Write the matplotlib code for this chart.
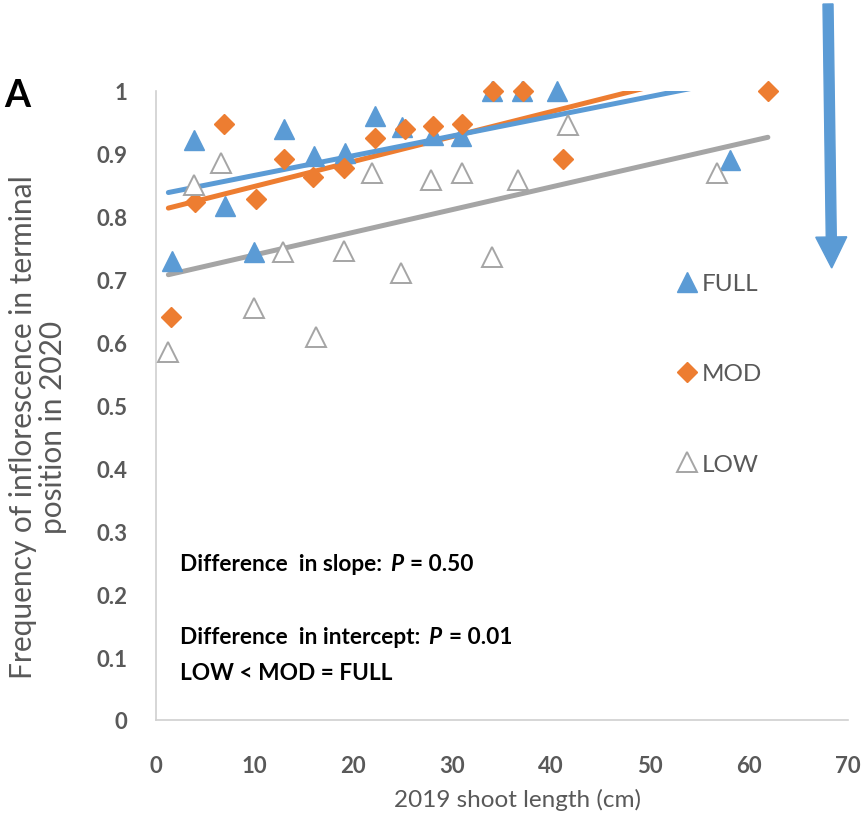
import numpy as np
import matplotlib
matplotlib.use("Agg")
import matplotlib.pyplot as plt
from matplotlib.patches import FancyArrow

# ---------------- data ----------------
full_x = [1.7, 3.9, 7.0, 10.0, 13.0, 16.0, 19.2, 22.2, 24.9, 28.0, 30.9, 34.0, 37.0, 40.6, 58.1]
full_y = [0.73, 0.922, 0.817, 0.744, 0.939, 0.897, 0.902, 0.961, 0.942, 0.93, 0.928, 1.0, 1.0, 1.0, 0.891]

mod_x = [1.6, 4.0, 6.9, 10.2, 13.0, 15.9, 19.1, 22.2, 25.2, 28.1, 31.0, 34.1, 37.1, 41.2, 61.9]
mod_y = [0.64, 0.823, 0.947, 0.829, 0.892, 0.864, 0.878, 0.926, 0.94, 0.945, 0.947, 1.0, 1.0, 0.892, 1.0]

low_x = [1.3, 3.9, 6.6, 10.0, 12.9, 16.2, 19.1, 21.9, 24.8, 27.8, 31.0, 34.0, 36.6, 41.7, 56.8]
low_y = [0.585, 0.851, 0.885, 0.655, 0.744, 0.609, 0.746, 0.869, 0.711, 0.858, 0.869, 0.736, 0.858, 0.946, 0.869]

series_names = ["FULL", "MOD", "LOW"]
x_ticks = [0, 10, 20, 30, 40, 50, 60, 70]
y_ticks = [0, 0.1, 0.2, 0.3, 0.4, 0.5, 0.6, 0.7, 0.8, 0.9, 1]
y_tick_labels = ["0", "0.1", "0.2", "0.3", "0.4", "0.5", "0.6", "0.7", "0.8", "0.9", "1"]

BLUE = "#5B9BD5"
ORANGE = "#ED7D31"
GRAY = "#A5A5A5"
TXT = "#595959"
FONT = ["Lato", "DejaVu Sans"]

W, H = 861, 820
fig = plt.figure(figsize=(W / 100, H / 100), dpi=100)
ax = fig.add_axes([155.5 / W, 1 - 721 / H, (848 - 155.5) / W, (721 - 92) / H])

ax.set_xlim(0, 70)
ax.set_ylim(0, 1)

# trendlines (linear least squares), spanning the overall x range
all_x = np.array(full_x + mod_x + low_x)
xs = np.linspace(all_x.min(), all_x.max(), 200)
for xv, yv, col in [(low_x, low_y, GRAY), (mod_x, mod_y, ORANGE), (full_x, full_y, BLUE)]:
    k, b = np.polyfit(xv, yv, 1)
    ax.plot(xs, k * xs + b, color=col, lw=3.6, solid_capstyle="round", zorder=2)

h_full, = ax.plot(full_x, full_y, ls="none", marker="^", ms=14, color=BLUE, mec=BLUE,
                  clip_on=False, zorder=3, label="FULL")
h_mod, = ax.plot(mod_x, mod_y, ls="none", marker="D", ms=10, color=ORANGE, mec=ORANGE,
                 clip_on=False, zorder=3, label="MOD")
h_low, = ax.plot(low_x, low_y, ls="none", marker="^", ms=14, mfc="white", mec=GRAY, mew=1.4,
                 clip_on=False, zorder=3, label="LOW")

leg = ax.legend(handles=[h_full, h_mod, h_low], labels=series_names,
                loc="upper left", bbox_to_anchor=((677 - 155.5) / (848 - 155.5), (721 - 274) / (721 - 92)),
                frameon=False, handlelength=0.8, handletextpad=0.2, labelspacing=2.85,
                prop={"family": FONT, "size": 17.5}, borderpad=0, borderaxespad=0)
for t in leg.get_texts():
    t.set_color(TXT)

# axes styling
for s in ["top", "right"]:
    ax.spines[s].set_visible(False)
for s in ["left", "bottom"]:
    ax.spines[s].set_color("#D0D0D0")
    ax.spines[s].set_linewidth(1.2)
ax.set_xticks(x_ticks)
ax.set_yticks(y_ticks)
ax.set_yticklabels(y_tick_labels)
ax.tick_params(axis="both", length=0, colors=TXT, labelsize=16)
ax.tick_params(axis="y", pad=20)
ax.tick_params(axis="x", pad=25)
for lab in ax.get_xticklabels() + ax.get_yticklabels():
    lab.set_fontfamily(FONT)
    lab.set_fontweight("bold")

fig.text(517 / W, 1 - 800 / H, "2019 shoot length (cm)", ha="center", va="center",
         color=TXT, fontsize=17.5, family=FONT)
fig.text(38 / W, 1 - 427 / H, "Frequency of inflorescence in terminal\nposition in 2020",
         ha="center", va="center", rotation=90, color=TXT, fontsize=21.5, family=FONT,
         linespacing=1.1, multialignment="center")

fig.text(4 / W, 1 - 96 / H, "A", ha="left", va="center", fontsize=27, fontweight="bold",
         family=FONT, color="black")

# annotation text with bold-italic P
renderer = fig.canvas.get_renderer()


def rich(x_px, y_px, parts, size=16.3):
    for s, style, gap in parts:
        x_px += gap
        t = fig.text(x_px / W, 1 - y_px / H, s, ha="left", va="center", fontsize=size,
                     fontweight="bold", fontstyle=style, family=FONT, color="black")
        bb = t.get_window_extent(renderer)
        x_px = bb.x1


rich(180, 565, [("Difference  in slope:", "normal", 0), ("P", "italic", 8), ("= 0.50", "normal", 7)])
rich(180, 637, [("Difference  in intercept:", "normal", 0), ("P", "italic", 8), ("= 0.01", "normal", 7)])
rich(180, 674, [("LOW < MOD = FULL", "normal", 0)])

# big arrow on the right
arr = FancyArrow(8.28, 8.15, 0.037, -(8.15 - 5.51), width=0.10, head_width=0.31,
                 head_length=0.31, length_includes_head=True, color=BLUE,
                 transform=fig.dpi_scale_trans)
fig.patches.append(arr)

fig.savefig("out.png", dpi=100)
